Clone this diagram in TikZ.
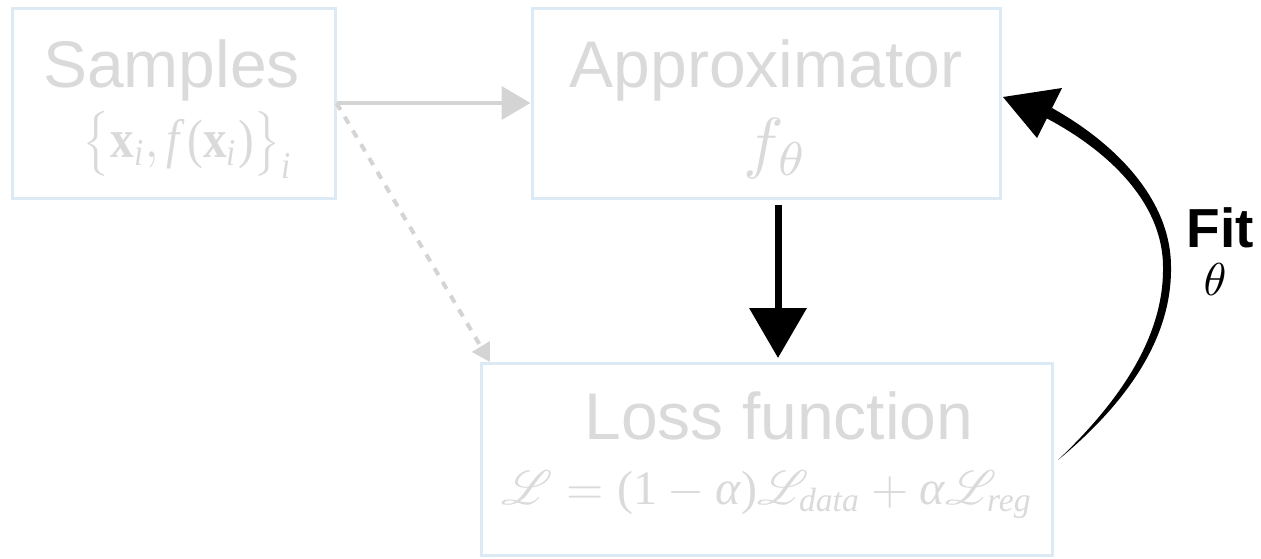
\documentclass[tikz,border=0pt]{standalone}
\usepackage{amsmath}
\usepackage[no-math]{fontspec}
\setmainfont{Liberation Sans}
\newfontfamily\tnrfam{Liberation Serif}
\newcommand{\tnrit}[1]{\text{\tnrfam\itshape #1}}
\newcommand{\tnrup}[1]{\text{\tnrfam #1}}
\newcommand{\tnrbf}[1]{\text{\tnrfam\bfseries #1}}
\usepackage{mathrsfs}
\usepackage{graphicx}
\usetikzlibrary{arrows.meta}
\definecolor{boxblue}{RGB}{220,234,245}
\definecolor{txtgray}{RGB}{218,218,218}
\definecolor{arrgray}{RGB}{212,212,212}
\begin{document}
\begin{tikzpicture}[x=1pt,y=-1pt,
  box/.style={draw=boxblue,line width=3pt,rectangle,inner sep=0pt},
  title/.style={text=txtgray,font=\fontsize{66}{70}\selectfont,inner sep=0pt,anchor=base},
  mathtxt/.style={text=txtgray,inner sep=0pt},
  grayarrow/.style={draw=arrgray,line width=4pt},
  ]
\useasboundingbox (0,0) rectangle (1261,558);
% boxes
\node[box,minimum width=323pt,minimum height=190pt] (samples) at (173.5,103) {};
\node[box,minimum width=468pt,minimum height=190pt] (approx) at (766,103) {};
\node[box,minimum width=571pt,minimum height=192pt] (loss) at (766.5,459) {};
% texts
\node[title] (samplestxt) at (171.5,87) {Samples};
\node[title] (approxtxt) at (766,87) {Approximator};
\node[title] (losstxt) at (779,439) {Loss function};
\node[mathtxt] (samplesmath) at (188,145) {\scalebox{1}[1.15]{\resizebox{210pt}{!}{$\big\{\tnrbf{x}_{\tnrit{i}},\tnrit{f\,}\tnrup{(}\tnrbf{x}_{\tnrit{i}}\tnrup{)}\big\}_{\tnrit{i}}$}}};
\node[mathtxt] (ftheta) at (776,148) {\resizebox{64pt}{!}{$f_\theta$}};
\node[mathtxt] (lossmath) at (767.5,495) {\resizebox{531pt}{!}{$\mathscr{L}=\tnrup{(1}-\tnrit{α}\tnrup{)}\mathscr{L}_{\tnrit{data}}+\tnrit{α}\mathscr{L}_{\tnrit{reg}}$}};
\node[inner sep=0pt,anchor=base,font=\bfseries\fontsize{55}{60}\selectfont] (fit) at (1220,247) {Fit};
\node[inner sep=0pt] (theta) at (1215,279) {\resizebox{!}{32pt}{$\theta$}};
% gray connectors
\coordinate (dashend) at (490,362);
\draw[grayarrow,-{Triangle[length=29pt,width=33pt]}] (samples.east) -- (approx.west);
\draw[grayarrow,dash pattern=on 8pt off 8pt,-{Triangle[length=18pt,width=20pt]}] (samples.east) -- (dashend);
% black down arrow
\coordinate (dtop) at (778,205);
\coordinate (dbot) at (778,358);
\draw[line width=7pt,-{Triangle[length=50pt,width=56pt]}] (dtop) -- (dbot);
% fit curve (tapered)
\fill (1058,460) .. controls (1122,407) and (1172,342) .. (1171,267)
  .. controls (1171,198) and (1113,142) .. (1052,108)
  -- (1046,118) .. controls (1107,150) and (1163,202) .. (1163,267)
  .. controls (1164,338) and (1118,403) .. (1058,460) -- cycle;
\fill (1003,97) -- (1062,88) -- (1037,138) -- cycle;
\end{tikzpicture}
\end{document}
